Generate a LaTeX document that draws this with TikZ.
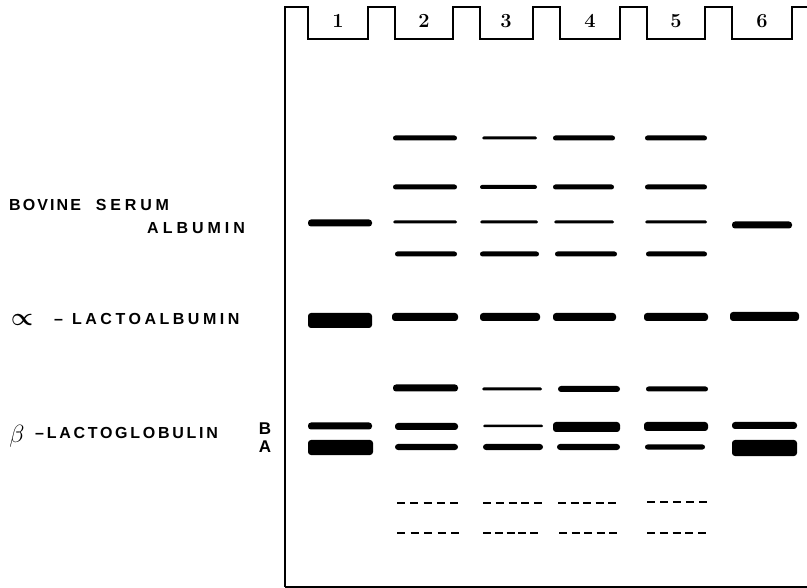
\documentclass[tikz,border=0pt]{standalone}
\usepackage{amsmath}
\usepackage{fontspec}
\newfontfamily\lblfont{Liberation Sans}
\newfontfamily\plainsans{Liberation Sans}
\newcommand{\gelband}[4]{%
  \pgfmathsetmacro{\gbr}{min(#4/2,3)}%
  \fill[black,rounded corners=\gbr pt] (#1,{#3-#4/2}) rectangle (#2,{#3+#4/2});}
\newcommand{\geldash}[3]{%
  \pgfmathsetmacro{\gdg}{(#2-#1-40)/4}%
  \draw[line width=2.8pt,dash pattern=on 8pt off \gdg pt] (#1,#3) -- (#2,#3);}
\newcommand{\propsym}{\ensuremath{\boldsymbol{\propto}}}
\newcommand{\spaced}[2]{{\addfontfeature{LetterSpace=#1}#2}}
\begin{document}
\begin{tikzpicture}[x=1pt,y=-1pt,
  gelline/.style={line width=2pt,line join=miter},
  lanenum/.style={font=\fontsize{20}{20}\selectfont\bfseries,inner sep=0pt},
  lbl/.style={font=\fontsize{16}{16}\selectfont\lblfont\bfseries,inner sep=0pt,anchor=west},
  ablbl/.style={font=\fontsize{17}{17}\selectfont\plainsans\bfseries,inner sep=0pt},
  greek/.style={inner sep=0pt}]
\useasboundingbox (0,0) rectangle (807,588);
% gel outline
\draw[gelline] (285,587) -- (285,7) -- (308,7) -- (308,39) -- (368,39) -- (368,7)
  -- (395,7) -- (395,39) -- (453,39) -- (453,7) -- (480,7) -- (480,39)
  -- (533,39) -- (533,7) -- (560,7) -- (560,39) -- (620,39) -- (620,7)
  -- (647,7) -- (647,39) -- (705,39) -- (705,7) -- (732,7) -- (732,39)
  -- (792,39) -- (792,7) -- (807,7);
\draw[gelline] (285,587) -- (807,587);
% lane numbers
\node[lanenum] (n1) at (338,21) {1};
\node[lanenum] (n2) at (424,21) {2};
\node[lanenum] (n3) at (506,21) {3};
\node[lanenum] (n4) at (590,21) {4};
\node[lanenum] (n5) at (676,21) {5};
\node[lanenum] (n6) at (762,21) {6};
% labels
\node[lbl] (bsa1) at (9,204.5) {\spaced{13}{BOVINE}\hspace{15pt}\spaced{24}{SERUM}};
\node[lbl] (bsa2) at (147,228) {\spaced{25}{ALBUMIN}};
\node[greek,font=\fontsize{25}{25}\selectfont] (alph) at (22,320) {\propsym};
\node[lbl] (alab) at (54,319) {\spaced{22}{–\hspace{9pt}LACTOALBUMIN}};
\node[greek,font=\fontsize{26}{26}\selectfont] (bet) at (17,436) {$\beta$};
\node[lbl] (blab) at (35,432.5) {\spaced{17}{–LACTOGLOBULIN}};
\node[ablbl] (labB) at (265,429) {B};
\node[ablbl] (labA) at (265,447) {A};
% row 1
\gelband{393}{457}{138}{5}
\gelband{482}{537}{138}{3}
\gelband{553}{615}{138}{5}
\gelband{645}{707}{138}{5}
% row 2
\gelband{393}{457}{187}{5}
\gelband{480}{537}{187}{4}
\gelband{553}{614}{187}{5}
\gelband{645}{707}{187}{5}
% row 3 (BSA)
\gelband{308}{372}{223}{7}
\gelband{393}{457}{222}{3}
\gelband{480}{538}{222}{3}
\gelband{554}{614}{222}{3}
\gelband{645}{707}{222}{3}
\gelband{732}{792}{225}{7}
% row 4
\gelband{395}{457}{254}{5}
\gelband{480}{539}{254}{5}
\gelband{555}{617}{254}{5}
\gelband{646}{707}{254}{5}
% alpha-lactalbumin
\gelband{308}{372}{320.5}{15}
\gelband{392}{458}{317}{8}
\gelband{480}{540}{317}{8}
\gelband{553}{616}{317}{8}
\gelband{644}{708}{317}{8}
\gelband{730}{799}{316.5}{9}
% row above beta-lg
\gelband{393}{458}{388}{7}
\gelband{482}{542}{389}{3}
\gelband{558}{620}{389}{6}
\gelband{646}{708}{389}{5}
% beta-lg B
\gelband{308}{372}{426}{7}
\gelband{395}{458}{426.5}{7}
\gelband{483}{543}{426}{2.5}
\gelband{553}{620}{427}{10}
\gelband{644}{708}{426.5}{9}
\gelband{732}{797}{425.5}{7}
% beta-lg A
\gelband{308}{373}{447.5}{15}
\gelband{395}{458}{447}{6}
\gelband{483}{543}{447}{6}
\gelband{557}{620}{447}{6}
\gelband{645}{705}{447}{5}
\gelband{732}{797}{448}{16}
% faint dashed bands
\geldash{397}{458}{503}
\geldash{483}{542}{503}
\geldash{558}{616}{503}
\geldash{647}{707}{502}
\geldash{397}{459}{533}
\geldash{483}{538}{533}
\geldash{559}{617}{533}
\geldash{647}{706}{533}
\end{tikzpicture}
\end{document}
